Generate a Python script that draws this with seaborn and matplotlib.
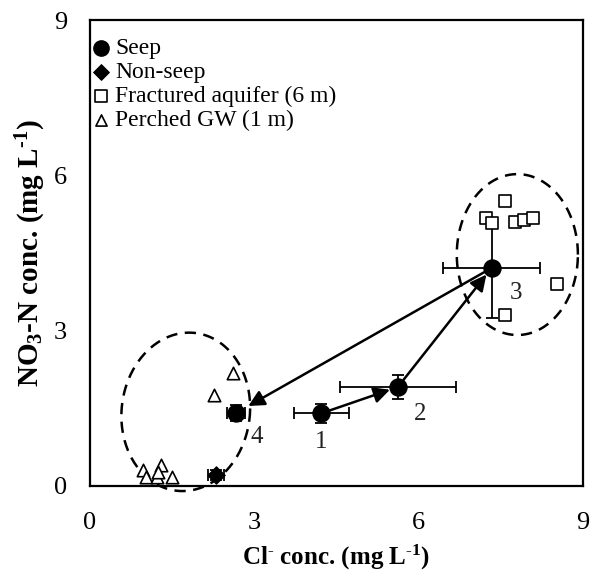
import numpy as np
import pandas as pd
import matplotlib
matplotlib.use("Agg")
import matplotlib.pyplot as plt
import seaborn as sns

# Seep sampling points (labelled 1-4) with standard deviations
seep_id = ["1", "2", "3", "4"]
seep_cl = [4.22, 5.62, 7.33, 2.67]
seep_no3 = [1.40, 1.91, 4.21, 1.41]
seep_cl_sd = [0.50, 1.06, 0.88, 0.16]
seep_no3_sd = [0.19, 0.23, 0.97, 0.16]

# Non-seep point
nonseep_cl = [2.30]
nonseep_no3 = [0.21]
nonseep_cl_sd = [0.15]
nonseep_no3_sd = [0.10]

# Fractured aquifer wells (6 m)
frac_cl = [7.57, 7.23, 7.34, 7.76, 7.92, 8.08, 8.52, 7.57]
frac_no3 = [5.50, 5.17, 5.08, 5.10, 5.14, 5.17, 3.90, 3.30]

# Perched groundwater (1 m)
perch_cl = [0.97, 1.02, 1.22, 1.30, 1.25, 1.50, 2.26, 2.61]
perch_no3 = [0.30, 0.18, 0.18, 0.40, 0.26, 0.18, 1.76, 2.18]

# Dashed envelopes: (centre x, centre y, width, height, tilt)
env_cx = [1.75, 7.80]
env_cy = [1.43, 4.47]
env_w = [2.34, 2.21]
env_h = [3.07, 3.11]
env_tilt = [-7.0, 0.0]

sns.set_style("white")
plt.rcParams["font.family"] = ["Liberation Serif", "DejaVu Serif"]
plt.rcParams["mathtext.fontset"] = "custom"
plt.rcParams["mathtext.rm"] = "Liberation Serif"
plt.rcParams["mathtext.bf"] = "Liberation Serif:bold"
plt.rcParams["mathtext.it"] = "Liberation Serif:italic"
plt.rcParams["text.color"] = "black"
plt.rcParams["axes.labelcolor"] = "black"

fig = plt.figure(figsize=(5.95, 5.77), dpi=100)
ax = fig.add_axes([0.151, 0.158, 0.829, 0.807])

df_seep = pd.DataFrame({"cl": seep_cl, "no3": seep_no3})
df_non = pd.DataFrame({"cl": nonseep_cl, "no3": nonseep_no3})
df_frac = pd.DataFrame({"cl": frac_cl, "no3": frac_no3})
df_perch = pd.DataFrame({"cl": perch_cl, "no3": perch_no3})

# dashed envelopes drawn in pixel-proportional space so the tilt looks right
xs_per_px = 9.0 / 493.0
ys_per_px = 9.0 / 466.0
t = np.linspace(0, 2 * np.pi, 400)
for cx, cy, w, h, tilt in zip(env_cx, env_cy, env_w, env_h, env_tilt):
    a = w / 2 / xs_per_px
    b = h / 2 / ys_per_px
    th = np.deg2rad(tilt)
    px = a * np.cos(t) * np.cos(th) - b * np.sin(t) * np.sin(th)
    py = a * np.cos(t) * np.sin(th) + b * np.sin(t) * np.cos(th)
    ax.plot(cx + px * xs_per_px, cy + py * ys_per_px, color="black",
            linestyle=(0, (4.5, 3.0)), linewidth=1.8, clip_on=False, zorder=2)

# flow-path arrows between seep points
arrow_order = [(0, 1, 6), (1, 2, 6), (2, 3, 10)]
for i, j, shrink in arrow_order:
    ax.annotate("", xy=(seep_cl[j], seep_no3[j]), xytext=(seep_cl[i], seep_no3[i]),
                arrowprops=dict(arrowstyle="-|>", color="black", lw=1.8,
                                mutation_scale=24, shrinkA=0, shrinkB=shrink),
                zorder=3)

# error bars
ax.errorbar(seep_cl, seep_no3, xerr=seep_cl_sd, yerr=seep_no3_sd, fmt="none",
            ecolor="black", elinewidth=1.3, capsize=4, capthick=1.3, zorder=3)
ax.errorbar(nonseep_cl, nonseep_no3, xerr=nonseep_cl_sd, yerr=nonseep_no3_sd,
            fmt="none", ecolor="black", elinewidth=1.3, capsize=4, capthick=1.3,
            zorder=3)

sns.scatterplot(data=df_seep, x="cl", y="no3", marker="o", s=150, color="black",
                edgecolor="black", ax=ax, label="Seep", zorder=4)
sns.scatterplot(data=df_non, x="cl", y="no3", marker="D", s=80, color="black",
                edgecolor="black", ax=ax, label="Non-seep", zorder=4)
sns.scatterplot(data=df_frac, x="cl", y="no3", marker="s", s=80,
                facecolor="white", edgecolor="black", linewidth=1.2, ax=ax,
                label="Fractured aquifer (6 m)", zorder=4)
sns.scatterplot(data=df_perch, x="cl", y="no3", marker="^", s=80,
                facecolor="white", edgecolor="black", linewidth=1.2, ax=ax,
                label="Perched GW (1 m)", zorder=4)

# point numbers
label_dx = [0.0, 0.40, 0.45, 0.38]
label_dy = [-0.56, -0.53, -0.49, -0.46]
for k in range(4):
    ax.text(seep_cl[k] + label_dx[k], seep_no3[k] + label_dy[k], seep_id[k],
            fontsize=18, ha="center", va="center", color="#222222", zorder=5)

ax.set_xlim(0, 9)
ax.set_ylim(0, 9)
ax.set_xticks([0, 3, 6, 9])
ax.set_yticks([0, 3, 6, 9])
ax.tick_params(axis="both", direction="out", length=5.5, width=1.3,
               labelsize=19, color="black", labelcolor="black")
ax.tick_params(axis="x", pad=13)
ax.tick_params(axis="y", pad=11)
for sp in ax.spines.values():
    sp.set_color("black")
    sp.set_linewidth(1.6)

ax.set_xlabel(r"Cl$\mathbf{^{\text{-}}}$ conc. (mg L$\mathbf{^{\text{-}1}}$)",
              fontsize=18, fontweight="bold", labelpad=7)
ax.set_ylabel(r"NO$\mathbf{_3}$-N conc. (mg L$\mathbf{^{\text{-}1}}$)",
              fontsize=21, fontweight="bold", labelpad=4)

leg = ax.legend(loc="upper left", bbox_to_anchor=(0.004, 0.962), frameon=False,
                fontsize=17, handletextpad=0.2, labelspacing=0.1,
                borderaxespad=0.0, borderpad=0.0, handlelength=0.8,
                markerscale=0.9)

fig.savefig("out.png", dpi=100)
